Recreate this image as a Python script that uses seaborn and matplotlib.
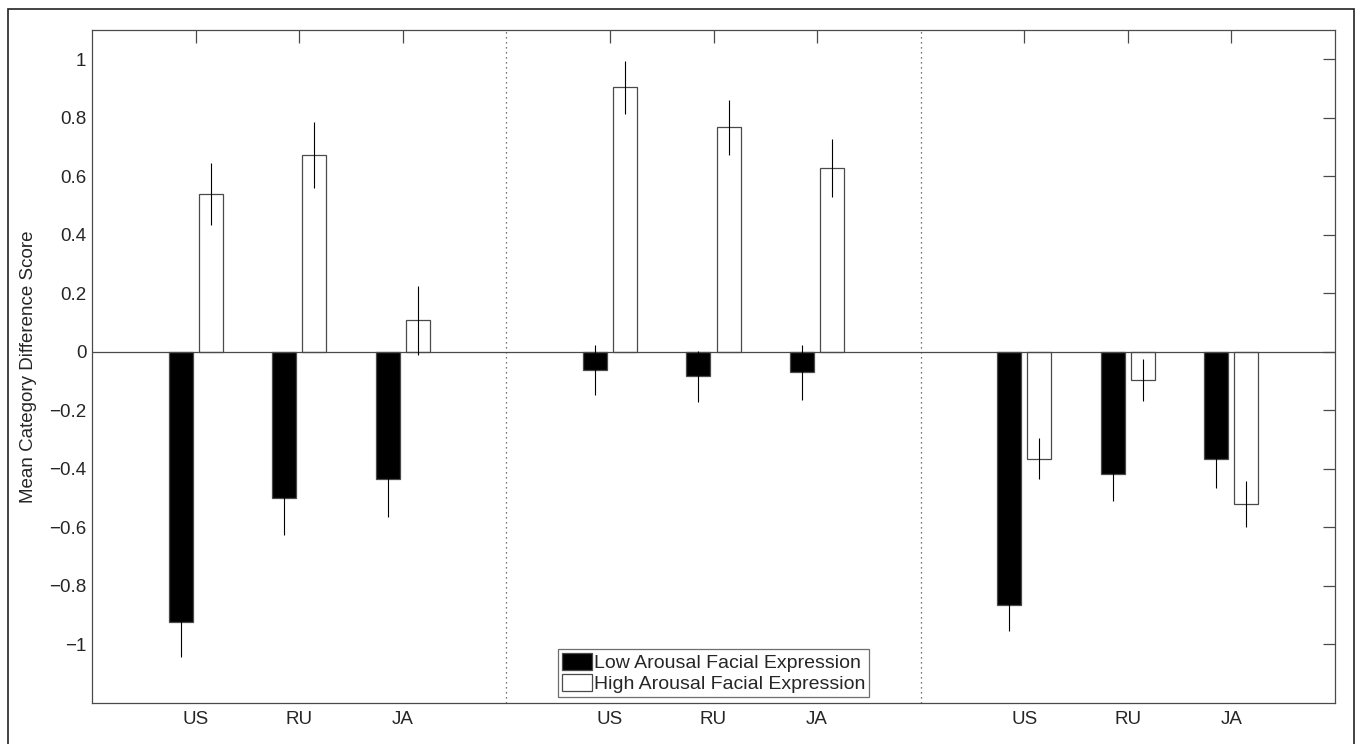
import numpy as np
import pandas as pd
import seaborn as sns
import matplotlib.pyplot as plt
from matplotlib.patches import Rectangle, Patch

# values
conditions = ["Low Arousal Facial Expression", "High Arousal Facial Expression"]
countries = ["US", "RU", "JA"]
positions = [1, 2, 3, 5, 6, 7, 9, 10, 11]
low_mean = [-0.923, -0.500, -0.435, -0.061, -0.084, -0.069, -0.865, -0.418, -0.365]
low_err = [0.12, 0.125, 0.13, 0.085, 0.087, 0.094, 0.09, 0.093, 0.10]
high_mean = [0.539, 0.672, 0.108, 0.904, 0.767, 0.629, -0.365, -0.096, -0.520]
high_err = [0.107, 0.112, 0.118, 0.09, 0.093, 0.10, 0.071, 0.071, 0.077]
dividers = [4, 8]
yticks = [-1, -0.8, -0.6, -0.4, -0.2, 0, 0.2, 0.4, 0.6, 0.8, 1]

sns.set_theme(style="white")
plt.rcParams["font.family"] = ["Liberation Sans", "DejaVu Sans"]

line_col = "#4a4a4a"
err_col = "black"

df = pd.DataFrame({
    "pos": positions * 2,
    "score": low_mean + high_mean,
    "err": low_err + high_err,
    "condition": [conditions[0]] * len(positions) + [conditions[1]] * len(positions),
})

fig = plt.figure(figsize=(13.56, 7.44), dpi=100)
ax = fig.add_axes([92 / 1356, 1 - 703 / 744, (1335 - 92) / 1356, (703 - 30) / 744])

sns.barplot(
    data=df, x="pos", y="score", hue="condition", native_scale=True,
    palette={conditions[0]: "black", conditions[1]: "white"}, saturation=1,
    edgecolor=line_col, linewidth=0.9, width=0.58, gap=0.2,
    errorbar=None, legend=False, ax=ax,
)

# error bars at the centres of the bars seaborn drew
for patch, (_, row) in zip(ax.patches, df.iterrows()):
    cx = patch.get_x() + patch.get_width() / 2
    ax.errorbar(cx, row["score"], yerr=row["err"], fmt="none",
                ecolor=err_col, elinewidth=0.8, capsize=0, zorder=3)

ax.axhline(0, color=line_col, lw=0.9, zorder=1)
for d in dividers:
    ax.axvline(d, color=line_col, lw=0.9, ls=(0, (1, 3)), zorder=1)

ax.set_xlim(0, 12)
ax.set_ylim(-1.2, 1.1)
ax.set_xticks(positions)
ax.set_xticklabels(countries * 3)
ax.set_yticks(yticks)
ax.set_yticklabels([f"{v:g}".replace("-", "\u2212") for v in yticks])
ax.set_xlabel("")
ax.set_ylabel("Mean Category Difference Score", fontsize=13.5)
ax.yaxis.set_label_coords(-0.044, 0.5)

ax.tick_params(direction="in", length=9, width=0.9, color=line_col,
               top=True, right=True, labelsize=13.5)
ax.tick_params(axis="y", pad=4)
ax.tick_params(axis="x", pad=6)
for sp in ax.spines.values():
    sp.set_color(line_col)
    sp.set_linewidth(0.9)

handles = [Patch(facecolor="black", edgecolor=line_col, lw=0.9),
           Patch(facecolor="white", edgecolor=line_col, lw=0.9)]
leg = ax.legend(handles, conditions, loc="lower center", bbox_to_anchor=(0.5, 0.0),
                fontsize=14, frameon=True, fancybox=False, borderpad=0.2,
                handlelength=1.55, handleheight=0.95, handletextpad=0.1,
                labelspacing=0.1, borderaxespad=0.3)
leg.get_frame().set_edgecolor(line_col)
leg.get_frame().set_linewidth(0.9)

# outer frame around the figure
fig.add_artist(Rectangle((8 / 1356, -0.05), (1354 - 8) / 1356, 1.05 - 9 / 744,
                         transform=fig.transFigure, fill=False,
                         edgecolor="#222222", lw=1.2))

fig.savefig("out.png", dpi=100)
